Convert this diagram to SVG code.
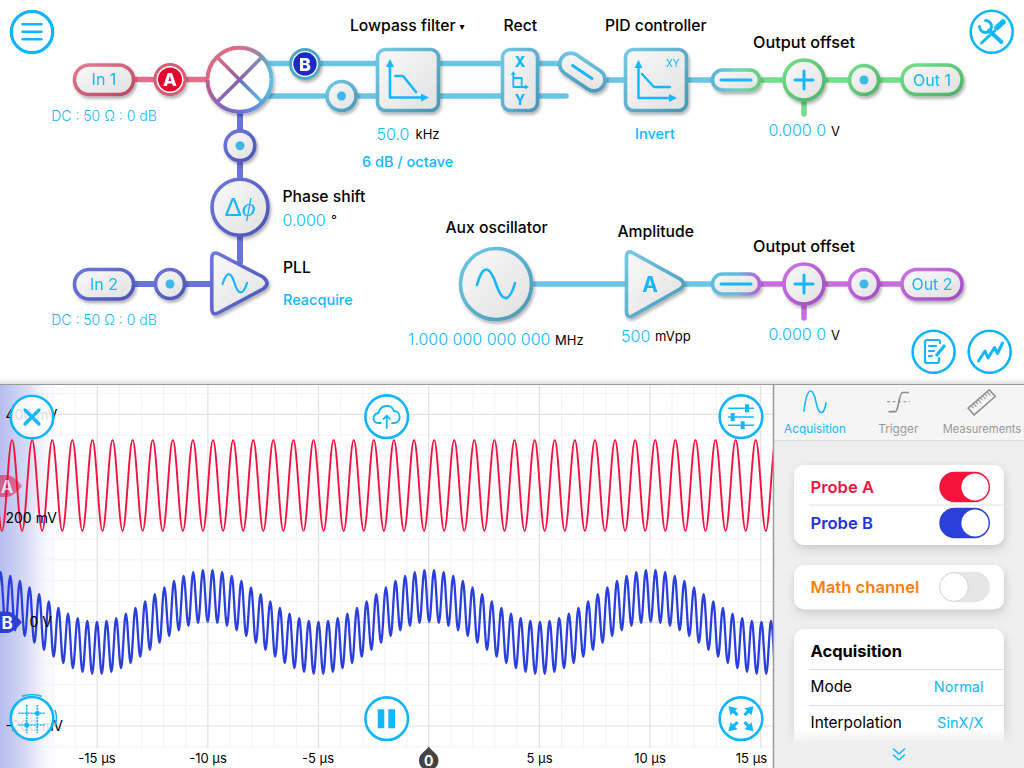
<svg xmlns="http://www.w3.org/2000/svg" width="1024" height="768" viewBox="0 0 1024 768">
<style>
text{font-family:Inter,"Liberation Sans",sans-serif;fill:#000}
.lb{font-size:15.7px;font-weight:500}
.lb2{font-size:16.2px;font-weight:500}
.c{fill:#13b7ff}
.v{font-size:16px;font-weight:300;fill:#13b7ff}
.u{font-size:13px;font-weight:400}
.m{font-size:14.5px;font-weight:500;fill:#13b7ff}
.dc{font-size:14px;font-weight:300;fill:#13b7ff;text-anchor:middle}
.io{font-size:16px;font-weight:400;fill:#13b7ff;text-anchor:middle}
.ax{font-size:13px;font-weight:400;text-anchor:middle}
.yl{font-size:14px;font-weight:400}
.w{fill:none;stroke-width:5.5;stroke-linecap:round}
.n{fill:url(#face);stroke-width:3.6}
.sh{filter:url(#ds)}
.r{stroke:url(#gr)}.b{stroke:url(#gb)}.y{stroke:url(#gc)}.g{stroke:url(#gg)}.p{stroke:url(#gp)}
.dot{fill:#3db8ea}
.ic{fill:none;stroke:#13b7ff;stroke-width:3;stroke-linecap:round;stroke-linejoin:round}
.btn{fill:#fff;fill-opacity:.86;stroke:#0db4ff;stroke-width:2.6}
.maj{stroke:#e2e2e2;stroke-width:1.2;fill:none}
.min{stroke:#f3f3f3;stroke-width:1;fill:none}
.card{fill:#fff;filter:url(#cs)}
.div{stroke:#e0e0e0;stroke-width:1}
.tab{font-size:11.8px;text-anchor:middle;fill:#999}
.pr{font-size:16.6px;font-weight:600}
.row{font-size:15.4px;font-weight:400}
.val{font-size:14.5px;font-weight:400;fill:#13b7ff;text-anchor:end}
</style>
<defs>
<linearGradient id="face" x1="0" y1="0" x2="1" y2="1"><stop offset="0" stop-color="#fafafa"/><stop offset="1" stop-color="#e0e0e0"/></linearGradient>
<linearGradient id="gr" x1="0" y1="0" x2="1" y2="1"><stop offset="0" stop-color="#e47a92"/><stop offset="1" stop-color="#b84a66"/></linearGradient>
<linearGradient id="gb" x1="0" y1="0" x2="1" y2="1"><stop offset="0" stop-color="#6f77e0"/><stop offset="1" stop-color="#4c54b4"/></linearGradient>
<linearGradient id="gc" x1="0" y1="0" x2="1" y2="1"><stop offset="0" stop-color="#72cbe8"/><stop offset="1" stop-color="#4796b4"/></linearGradient>
<linearGradient id="gg" x1="0" y1="0" x2="1" y2="1"><stop offset="0" stop-color="#74e08c"/><stop offset="1" stop-color="#4cb266"/></linearGradient>
<linearGradient id="gp" x1="0" y1="0" x2="1" y2="1"><stop offset="0" stop-color="#cc74e6"/><stop offset="1" stop-color="#a24cc0"/></linearGradient>
<linearGradient id="dg" x1="0" y1="0" x2="1" y2="0"><stop offset="0" stop-color="#5fb4d6"/><stop offset=".55" stop-color="#78cfc0"/><stop offset="1" stop-color="#62cf7c"/></linearGradient>
<linearGradient id="dp" x1="0" y1="0" x2="1" y2="0"><stop offset="0" stop-color="#62bedd"/><stop offset=".5" stop-color="#62bedd"/><stop offset="1" stop-color="#b862d8"/></linearGradient>
<linearGradient id="mt" gradientUnits="userSpaceOnUse" x1="207" y1="0" x2="272" y2="0"><stop offset="0" stop-color="#dd6a82"/><stop offset=".55" stop-color="#d8708a"/><stop offset=".85" stop-color="#7f94b0"/><stop offset="1" stop-color="#5fbfdf"/></linearGradient>
<linearGradient id="mb" gradientUnits="userSpaceOnUse" x1="207" y1="0" x2="272" y2="0"><stop offset="0" stop-color="#b8608e"/><stop offset=".25" stop-color="#7f68b8"/><stop offset=".55" stop-color="#6a72dc"/><stop offset=".85" stop-color="#5f9fdc"/><stop offset="1" stop-color="#5fbfdf"/></linearGradient>
<linearGradient id="x1" gradientUnits="userSpaceOnUse" x1="217" y1="57" x2="240" y2="80"><stop offset="0" stop-color="#dd6a82"/><stop offset="1" stop-color="#8a62a0"/></linearGradient>
<linearGradient id="x2" gradientUnits="userSpaceOnUse" x1="262" y1="57" x2="240" y2="80"><stop offset="0" stop-color="#7f94b0"/><stop offset="1" stop-color="#8a62a0"/></linearGradient>
<linearGradient id="x3" gradientUnits="userSpaceOnUse" x1="262" y1="102" x2="240" y2="80"><stop offset="0" stop-color="#5fbfdf"/><stop offset="1" stop-color="#6a72b8"/></linearGradient>
<linearGradient id="x4" gradientUnits="userSpaceOnUse" x1="217" y1="102" x2="240" y2="80"><stop offset="0" stop-color="#8a68c0"/><stop offset="1" stop-color="#8a62a0"/></linearGradient>
<linearGradient id="side" x1="0" y1="0" x2="1" y2="0"><stop offset="0" stop-color="#b6bdee"/><stop offset=".45" stop-color="#d8dcf6"/><stop offset="1" stop-color="#fff" stop-opacity="0"/></linearGradient>
<linearGradient id="topsh" x1="0" y1="0" x2="0" y2="1"><stop offset="0" stop-color="#fff"/><stop offset="1" stop-color="#e2e2e2"/></linearGradient>
<linearGradient id="fade" x1="0" y1="0" x2="0" y2="1"><stop offset="0" stop-color="#efefef" stop-opacity="0"/><stop offset="1" stop-color="#efefef"/></linearGradient>
<filter id="ds" x="-30%" y="-30%" width="170%" height="170%"><feDropShadow dx="1.5" dy="2.5" stdDeviation="1.8" flood-color="#000" flood-opacity=".3"/></filter>
<filter id="cs" x="-10%" y="-20%" width="120%" height="150%"><feDropShadow dx="1" dy="4" stdDeviation="5" flood-color="#000" flood-opacity=".16"/></filter>
<path id="red8" fill="none" stroke="#f5123e" stroke-width="1.9" d="M0 531c3.66 0 6.39-91 10.05-91s6.39 91 10.05 91s6.39-91 10.05-91s6.39 91 10.05 91s6.39-91 10.05-91s6.39 91 10.05 91s6.39-91 10.05-91s6.39 91 10.05 91s6.39-91 10.05-91s6.39 91 10.05 91s6.39-91 10.05-91s6.39 91 10.05 91s6.39-91 10.05-91s6.39 91 10.05 91s6.39-91 10.05-91s6.39 91 10.05 91"/>
<path id="blue" fill="none" stroke="#2a3fdc" stroke-width="2.3" d="M0 622c1.75 0 3.06-51.8 4.815-51.8s3.06 52.76 4.815 52.76s3.06-50.81 4.815-50.81s3.06 53.65 4.815 53.65s3.06-49.97 4.815-49.97s3.06 54.42 4.815 54.42s3.06-49.25 4.815-49.25s3.06 55 4.815 55s3.06-48.7 4.815-48.7s3.06 55.4 4.815 55.4s3.06-48.5 4.815-48.5s3.06 55.6 4.815 55.6s3.06-48.5 4.815-48.5s3.06 55.4 4.815 55.4s3.06-48.7 4.815-48.7s3.06 55 4.815 55s3.06-49.25 4.815-49.25s3.06 54.45 4.815 54.45s3.06-50 4.815-50s3.06 53.65 4.815 53.65s3.06-50.85 4.815-50.85s3.06 52.76 4.815 52.76s3.06-51.76 4.815-51.76s3.06 51.76 4.815 51.76s3.06-52.76 4.815-52.76s3.06 50.85 4.815 50.85s3.06-53.65 4.815-53.65s3.06 50 4.815 50s3.06-54.45 4.815-54.45s3.06 49.25 4.815 49.25s3.06-55 4.815-55s3.06 48.7 4.815 48.7s3.06-55.4 4.815-55.4s3.06 48.5 4.815 48.5s3.06-55.6 4.815-55.6s3.06 48.5 4.815 48.5s3.06-55.4 4.815-55.4s3.06 48.7 4.815 48.7s3.06-55 4.815-55s3.06 49.25 4.815 49.25s3.06-54.42 4.815-54.42s3.06 49.97 4.815 49.97s3.06-53.65 4.815-53.65s3.06 50.81 4.815 50.81s3.06-52.76 4.815-52.76s3.06 51.8 4.815 51.8"/>
<g id="arr"><path fill="#13b7ff" d="M12.5 -12.5L3.5 -10.5L10.5 -3.5Z"/><path stroke="#13b7ff" stroke-width="3.2" d="M8 -8L3.5 -3.5"/></g>
</defs>
<rect width="1024" height="768" fill="#fff"/>
<rect y="378" width="1024" height="6" fill="url(#topsh)"/>

<g id="connectors">
<path class="w" stroke="#e0708a" d="M135 79.5H208"/>
<path class="w" stroke="#6cc5e6" d="M266 63.5H500M266 96H566M539 63.5H566M596 80H712M533 284H712"/>
<path class="w" stroke="#6a72dc" style="stroke-width:6" d="M240 112V262M135 284H212"/>
<path class="w" stroke="#72dd8a" d="M761 80H900M804 100V114"/>
<path class="w" stroke="#c86fe0" d="M761 284H900M804 304V318"/>
</g>

<g id="menu"><circle class="btn" cx="32" cy="32" r="20.7" style="stroke-width:3.2"/><path class="ic" style="stroke-width:2.6" d="M22.5 24.3H41.5M22.5 31.8H41.5M22.5 39.3H41.5"/></g>
<g id="tools"><circle class="btn" cx="991.7" cy="31.7" r="21"/>
<path class="ic" style="stroke-width:3" d="M981.5 43L995 30.5"/><path class="ic" style="stroke-width:5.5" d="M997 27.5L1003 22"/>
<path class="ic" style="stroke-width:3.8" d="M989 30.5L1001.5 42"/><path class="ic" style="stroke-width:3" d="M985.5 20.5A6 6 0 1 1 979.5 26.5"/></g>

<g id="in1" class="sh"><rect class="n r" x="74.5" y="65" width="59" height="29.5" rx="14.7"/><text class="io" x="104" y="85">In 1</text></g>
<text class="dc" x="104" y="121">DC : 50 Ω : 0 dB</text>
<g id="probeA" class="sh"><circle cx="170" cy="79.5" r="15" fill="#fff" stroke="#d65c78" stroke-width="3"/><circle cx="170" cy="79.5" r="12" fill="#e8042f"/><text x="170" y="86" font-size="18" font-weight="800" text-anchor="middle" style="fill:#fff">A</text></g>
<g id="mixer" class="sh"><circle cx="239.5" cy="79.7" r="32" fill="#fff"/>
<g fill="none" stroke-width="3.6"><path stroke="url(#x1)" d="M217 57L239.5 79.7"/><path stroke="url(#x2)" d="M262 57L239.5 79.7"/><path stroke="url(#x3)" d="M262 102L239.5 79.7"/><path stroke="url(#x4)" d="M217 102L239.5 79.7"/>
<path stroke="url(#mt)" stroke-width="4" d="M207.5 79.7A32 32 0 0 1 271.5 79.7"/><path stroke="url(#mb)" stroke-width="4" d="M207.5 79.7A32 32 0 0 0 271.5 79.7"/></g></g>
<g id="probeB" class="sh"><circle cx="305" cy="64" r="14.5" fill="#fff" stroke="#4aa9c8" stroke-width="3"/><circle cx="305" cy="64" r="11.7" fill="#1a2bc8"/><text x="305" y="70.5" font-size="18" font-weight="800" text-anchor="middle" style="fill:#fff">B</text></g>
<g id="dotLow" class="sh"><circle class="n y" cx="341.5" cy="96" r="14.5"/><circle class="dot" cx="341.5" cy="96" r="4.5"/></g>
<g id="dotPhase" class="sh"><circle class="n b" cx="240" cy="145.7" r="14.8"/><circle class="dot" cx="240" cy="145.7" r="4.5"/></g>
<g id="phase" class="sh"><circle class="n b" cx="240" cy="207.3" r="28"/><text x="240" y="216" font-size="26" text-anchor="middle" class="c" style="font-family:'Liberation Sans',sans-serif">Δ<tspan style="font-family:'Liberation Serif',serif;font-style:italic;fill:#13b7ff">ϕ</tspan></text></g>
<text class="lb" x="282.5" y="201.5">Phase shift</text>
<text class="v" x="282.5" y="225.5">0.000</text><text class="u" x="331" y="225">°</text>
<g id="in2" class="sh"><rect class="n b" x="74.5" y="269.5" width="59" height="29.5" rx="14.7"/><text class="io" x="104" y="289.5">In 2</text></g>
<text class="dc" x="104" y="325">DC : 50 Ω : 0 dB</text>
<g id="dotIn2" class="sh"><circle class="n b" cx="170" cy="284" r="14.5"/><circle class="dot" cx="170" cy="284" r="4.5"/></g>
<g id="pll" class="sh"><path class="n b" stroke-linejoin="round" d="M211.8 259Q211.8 250.5 219 254L263 277Q271 283.5 263 289L219 312.5Q211.8 316.5 211.8 308Z"/><path class="ic" style="stroke-width:2.2" d="M222.5 284C227 270 231 272 234.5 283C238 295 243 296 247 283"/></g>
<text class="lb" x="283" y="273">PLL</text><text class="m" x="283" y="305">Reacquire</text>

<g id="lowpass" class="sh"><rect class="n y" x="377.5" y="49.5" width="61" height="61" rx="8"/><path class="ic" style="stroke-width:2.6" d="M390 66V97.5H424M395.5 76H403L416 92"/><path fill="#13b7ff" d="M390 59L394 67H386ZM429 97.5L421 93.5V101.5Z"/></g>
<text class="lb" x="350" y="31">Lowpass filter</text><text x="459.500" y="30" font-size="10" style="font-family:'DejaVu Sans',sans-serif">▾</text>
<text class="v" x="376.5" y="139.5">50.0</text><text class="u" x="415.5" y="139">kHz</text>
<text class="m" x="362" y="167">6 dB / octave</text>
<g id="rect" class="sh"><rect class="n y" x="502.5" y="49.5" width="35" height="61" rx="8"/>
<text x="520" y="67" font-size="14" font-weight="800" text-anchor="middle" class="c">X</text><text x="520" y="105" font-size="14" font-weight="800" text-anchor="middle" class="c">Y</text>
<path class="ic" style="stroke-width:1.8" d="M513.3 74V87H526M513.3 78H521.7V87"/><path fill="#13b7ff" d="M513.3 71L515.8 75H510.8ZM529 87L525 84.5V89.5Z"/></g>
<text class="lb" x="503.5" y="31">Rect</text>
<g id="inv1" class="sh"><rect class="n y" x="-25" y="-11" width="50" height="22" rx="11" transform="translate(582.3 72) rotate(34)"/><path class="ic" style="stroke-width:2.8" d="M572.5 65.5L592 78.5"/></g>
<g id="pid" class="sh"><rect class="n y" x="625.5" y="49.5" width="61" height="61" rx="8"/><path class="ic" style="stroke-width:2.4" d="M638.5 66V98H672M642 74L654 87H670"/><path fill="#13b7ff" d="M638.5 60L642.5 68H634.5ZM677 98L669 94V102Z"/><text x="666" y="67" font-size="10" class="c">XY</text></g>
<text class="lb" x="605" y="31">PID controller</text><text class="m" x="635" y="139">Invert</text>

<g id="diff1" class="sh"><rect x="712.5" y="70" width="47" height="20" rx="10" fill="url(#face)" stroke="url(#dg)" stroke-width="3.6"/><path class="ic" d="M721 80H751"/></g>
<g id="sum1" class="sh"><circle class="n g" cx="804" cy="80" r="20"/><path class="ic" d="M795 80H813M804 71V89"/></g>
<text class="lb2" x="753" y="47.5">Output offset</text>
<text class="v" x="768.5" y="136">0.000 0</text><text class="u" x="831" y="136">V</text>
<g id="dotOut1" class="sh"><circle class="n g" cx="864" cy="80" r="14.5"/><circle class="dot" cx="864" cy="80" r="4.5"/></g>
<g id="out1" class="sh"><rect class="n g" x="902" y="65" width="60" height="29.5" rx="14.7"/><text class="io" x="932" y="85.5">Out 1</text></g>

<g id="aux" class="sh"><circle class="n y" cx="496" cy="284" r="35.5"/><path class="ic" style="stroke-width:2.6" d="M477 285C483 263 490 266 496 284C502 302 509 304 515 283"/></g>
<text class="lb" x="445.5" y="233">Aux oscillator</text>
<text class="v" x="408" y="345">1.000 000 000 000</text><text class="u" x="555" y="345">MHz</text>
<g id="amp" class="sh"><path class="n y" stroke-linejoin="round" d="M626.5 257Q626.5 249.5 633 253L680 279Q687 284 680 289L633 315.5Q626.5 319 626.5 311Z"/><text x="650" y="292" font-size="21" font-weight="700" text-anchor="middle" class="c">A</text></g>
<text class="lb" x="617.5" y="237">Amplitude</text>
<text class="v" x="621" y="341.5">500</text><text class="u" x="655" y="341">mVpp</text>
<g id="diff2" class="sh"><rect x="712.5" y="274" width="47" height="20" rx="10" fill="url(#face)" stroke="url(#dp)" stroke-width="3.6"/><path class="ic" d="M721 284H751"/></g>
<g id="sum2" class="sh"><circle class="n p" cx="804" cy="284" r="20"/><path class="ic" d="M795 284H813M804 275V293"/></g>
<text class="lb2" x="753" y="251.5">Output offset</text>
<text class="v" x="768.5" y="340">0.000 0</text><text class="u" x="831" y="340">V</text>
<g id="dotOut2" class="sh"><circle class="n p" cx="864" cy="284" r="14.5"/><circle class="dot" cx="864" cy="284" r="4.5"/></g>
<g id="out2" class="sh"><rect class="n p" x="902" y="269.5" width="60" height="29.5" rx="14.7"/><text class="io" x="932" y="289.5">Out 2</text></g>

<g id="notes"><circle class="btn" cx="933.6" cy="351.7" r="21"/><path class="ic" style="stroke-width:2.2" d="M940 343V342Q940 340 938 340H927Q925 340 925 342V361Q925 363 927 363H937Q939 363 939 361V358M929 346H936M929 351H934M929 356H932"/><path fill="none" stroke="#13b7ff" stroke-width="3" d="M936 356L945 345"/></g>
<g id="chart"><circle class="btn" cx="989.7" cy="351.7" r="21"/><path class="ic" style="stroke-width:3" d="M978.5 361L985 351L988 358L994.5 347.5L997.5 353.5L1002.5 343"/></g>

<g id="scope">
<rect y="384" width="774" height="384" fill="#fff"/>
<path class="min" d="M31 385V748M53.1 385V748M75.2 385V748M119.3 385V748M141.4 385V748M163.5 385V748M185.6 385V748M230 385V748M252.1 385V748M274.2 385V748M296.3 385V748M340.6 385V748M362.7 385V748M384.8 385V748M406.9 385V748M450.8 385V748M472.9 385V748M495 385V748M517.1 385V748M561.5 385V748M583.6 385V748M605.7 385V748M627.8 385V748M672.1 385V748M694.2 385V748M716.3 385V748M738.4 385V748"/>
<path class="min" d="M0 393.5H773M0 435.1H773M0 455.9H773M0 476.7H773M0 497.5H773M0 539.1H773M0 559.9H773M0 580.7H773M0 601.5H773M0 643.1H773M0 663.9H773M0 684.7H773M0 705.5H773M0 746.8H773"/>
<path class="maj" d="M97.2 385V748M207.9 385V748M318.5 385V748M428.7 385V748M539.4 385V748M650 385V748M760.7 385V748M0 414.3H773M0 518.3H773M0 622.3H773M0 726H773"/>
<rect y="385" width="62" height="383" fill="url(#side)"/>
<use href="#red8" x="-18.1"/><use href="#red8" x="142.7"/><use href="#red8" x="303.5"/><use href="#red8" x="464.3"/><use href="#red8" x="625.1"/>
<use href="#blue" x="-13.8"/><use href="#blue" x="207.7"/><use href="#blue" x="429.2"/><use href="#blue" x="650.7"/>
<text class="yl" x="5.5" y="419.5">400 mV</text><text class="yl" x="5.5" y="522.5">200 mV</text><text class="yl" x="29.5" y="626.5">0 V</text><text class="yl" x="5.5" y="731">-200 mV</text>
<g id="markerA" opacity=".5"><path fill="#e8042f" d="M-4 475H8Q14 476 22 486Q14 496 8 497H-4Z"/><text x="7" y="492.5" font-size="17" font-weight="700" text-anchor="middle" style="fill:#fff">A</text></g>
<g id="markerB"><path fill="#2a3fdc" d="M-4 611.5H8Q14 612.5 22 622.3Q14 632 8 633H-4Z"/><text x="7" y="628.5" font-size="17" font-weight="700" text-anchor="middle" style="fill:#fff">B</text></g>
<text class="ax" x="97" y="762.5">-15 µs</text><text class="ax" x="208" y="762.5">-10 µs</text><text class="ax" x="318" y="762.5">-5 µs</text><text class="ax" x="539.5" y="762.5">5 µs</text><text class="ax" x="650" y="762.5">10 µs</text><text class="ax" x="751.5" y="762.5">15 µs</text>
<g id="cursor"><path fill="#444" d="M428.7 746.5C431 751 438.5 753 438.5 760.5C438.5 773 419 773 419 760.5C419 753 426.4 751 428.7 746.5Z"/><text x="428.7" y="765.5" font-size="14" font-weight="700" text-anchor="middle" style="fill:#fff">0</text></g>
<g id="close"><circle class="btn" cx="32" cy="417" r="21.3"/><path class="ic" style="stroke-width:3.2" d="M25 410L39 424M39 410L25 424"/></g>
<g id="upload"><circle class="btn" cx="386.7" cy="416.7" r="21.3"/><path class="ic" style="stroke-width:1.8" d="M381 423H378C372 423 372 414 378.5 413C380 405 391 403 394 411C401 411 402 423 394 423H392M386.7 428V416M383.5 419L386.7 415.5L390 419"/></g>
<g id="sliders"><circle class="btn" cx="741" cy="416.7" r="21.3"/><path class="ic" style="stroke-width:1.4" d="M728.5 408.3H753.5M728.5 417H753.5M728.5 425.3H753.5"/><path fill="#13b7ff" d="M745 404.3H749V412.3H745ZM730.7 413H734.7V421H730.7ZM740.7 421.3H744.7V429.3H740.7Z"/></g>
<g id="pause"><circle class="btn" cx="386.7" cy="718.7" r="21.3"/><path fill="#13b7ff" d="M377.7 709.3H384.3V728.3H377.7ZM388.3 709.3H395V728.3H388.3Z"/></g>
<g id="expand"><circle class="btn" cx="741" cy="718.7" r="21.3"/>
<g transform="translate(741 718.7)"><use href="#arr"/><use href="#arr" transform="rotate(90)"/><use href="#arr" transform="rotate(180)"/><use href="#arr" transform="rotate(270)"/></g></g>
<g id="gridbtn"><circle class="btn" cx="32" cy="718.3" r="21.3"/><path fill="none" stroke="#13b7ff" stroke-width="1.5" d="M21.7 696.3Q32 692.5 41.7 696.3M55 710Q58 718 55 726"/><path fill="none" stroke="#13b7ff" stroke-width="1.6" stroke-dasharray="2.2 .8" d="M18.5 713.3H45M18.5 725H45M26.7 705V733.3M37.3 705V733.3"/><circle cx="37.3" cy="713.3" r="2.5" fill="#13b7ff"/><circle cx="26.7" cy="725" r="2.5" fill="#13b7ff"/></g>
</g>

<g id="panel">
<rect x="774" y="385" width="250" height="383" fill="#efefef"/>
<rect x="774" y="385" width="250" height="55" fill="#f5f5f5"/>
<path stroke="#dcdcdc" d="M774 440.5H1024"/>
<path stroke="#9a9a9a" stroke-width="1.5" d="M773.5 385V768"/>
<path stroke="#9a9a9a" stroke-width="1.2" d="M0 384.5H1024"/>
<g id="tabAcq"><path class="ic" style="stroke-width:1.6" d="M804 411C807 385 813 387 816 402C819 417 824 415 826 403"/><text class="tab" x="815" y="433" style="fill:#13b7ff">Acquisition</text></g>
<g id="tabTrig"><path fill="none" stroke="#a0a0a0" stroke-width="1.2" stroke-dasharray="3 2.5" d="M887 401.7H910"/><path fill="none" stroke="#8c8c8c" stroke-width="1.7" d="M888.5 411.7H895.5C898.5 411.7 899 392.5 902.5 392.5H909"/><text class="tab" x="898.3" y="433">Trigger</text></g>
<g id="tabMeas"><g transform="translate(981.7 402.3) rotate(-41)"><rect x="-14" y="-4.5" width="28" height="9" fill="none" stroke="#8c8c8c" stroke-width="1.5"/><path stroke="#8c8c8c" d="M-10 -4V-1M-7 -4V0M-4 -4V-1M-1 -4V0M2 -4V-1M5 -4V0M8 -4V-1M11 -4V0"/></g><text class="tab" x="982" y="433" style="font-size:11.2px">Measurements</text></g>

<rect class="card" x="794" y="465" width="210" height="80" rx="10"/>
<text class="pr" x="810.5" y="492.5" style="fill:#f5143c">Probe A</text>
<path class="div" d="M809 505H1004"/>
<text class="pr" x="810.5" y="528.5" style="fill:#2233dd">Probe B</text>
<g id="toggleA"><rect x="939.3" y="471.7" width="50.7" height="30.6" rx="15.3" fill="#f5143c"/><circle cx="975" cy="487" r="13.6" fill="#fff"/></g>
<g id="toggleB"><rect x="939.3" y="507.7" width="50.7" height="30.6" rx="15.3" fill="#2a3fdc"/><circle cx="975" cy="523" r="13.6" fill="#fff"/></g>

<rect class="card" x="794" y="565" width="210" height="44.3" rx="10"/>
<text class="pr" x="810.5" y="592.5" style="fill:#ff7f0f">Math channel</text>
<g id="toggleM"><rect x="939.3" y="571.7" width="50.7" height="30.6" rx="15.3" fill="#e6e6e6"/><circle cx="954" cy="587" r="14.3" fill="#fff" stroke="#cfcfcf" stroke-width=".8"/></g>

<rect class="card" x="794" y="629" width="210" height="150" rx="10"/>
<text x="810.5" y="656.5" font-size="16.5" font-weight="700">Acquisition</text>
<path class="div" d="M809 669.5H1004M809 705.5H1004M809 741.5H1004"/>
<text class="row" x="810.5" y="692">Mode</text><text class="val" x="983.5" y="692">Normal</text>
<text class="row" x="810.5" y="728">Interpolation</text><text class="val" x="983.5" y="728">SinX/X</text>
<rect x="786" y="727" width="226" height="18" fill="url(#fade)"/>
<rect x="786" y="745" width="226" height="23" fill="#efefef"/>
<path class="ic" style="stroke-width:1.6" d="M893.5 749L899 754L904.5 749M893.5 755L899 760L904.5 755"/>
</g>
</svg>
